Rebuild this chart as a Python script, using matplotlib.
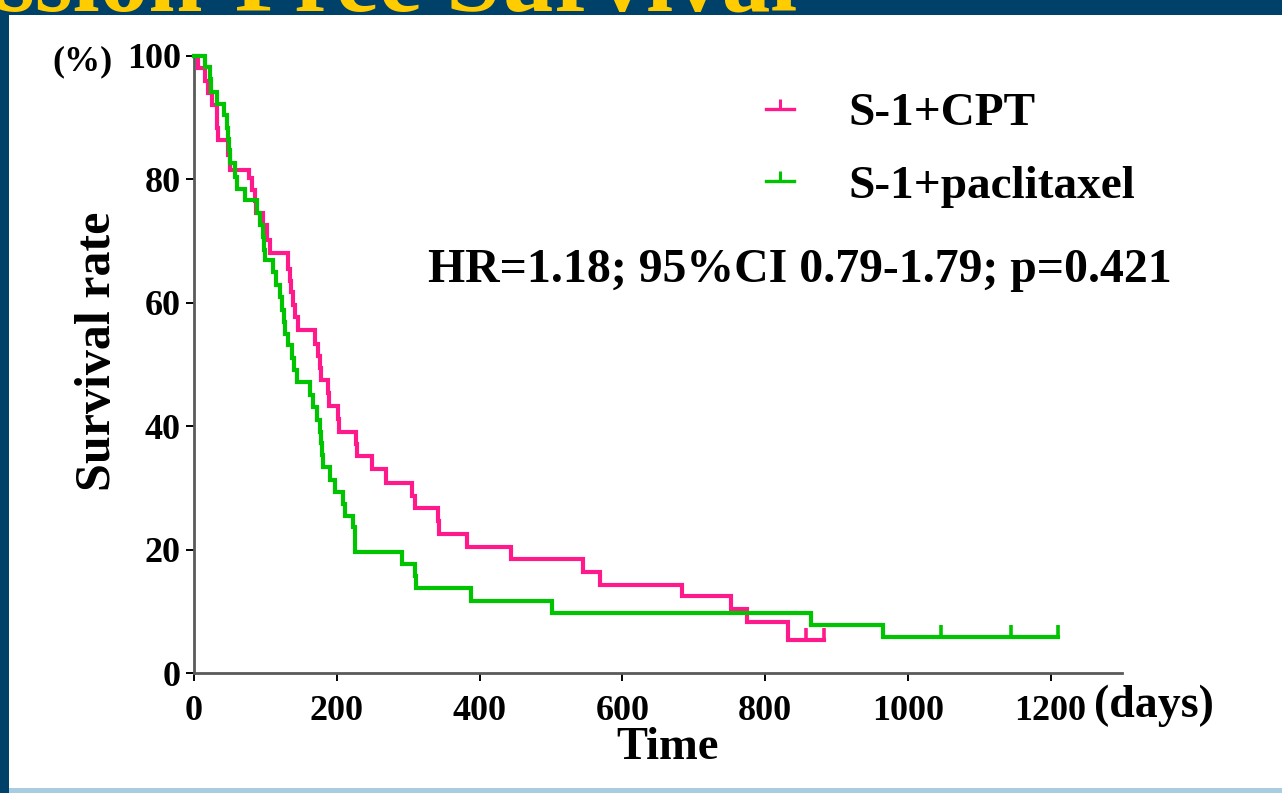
import numpy as np
import matplotlib
matplotlib.use("Agg")
import matplotlib.pyplot as plt
from matplotlib.path import Path
from matplotlib.lines import Line2D
from matplotlib.patches import Rectangle

# ---- data ----
cpt_label = "S-1+CPT"
cpt_t = [0, 5, 16, 20, 25, 32, 34, 48, 50, 77, 81, 85, 87, 97, 102, 106, 132, 134, 136, 139,
         141, 146, 169, 174, 176, 178, 188, 189, 202, 203, 227, 229, 249, 269, 305, 310, 342,
         343, 383, 444, 545, 569, 684, 752, 774, 832]
cpt_s = [100, 98, 96, 94, 92, 88.3, 86.4, 84, 81.6, 80.2, 78.3, 76.5, 74.5, 72.6, 70.2, 68.0,
         65.5, 63.5, 61.8, 59.7, 57.7, 55.6, 53.4, 51.4, 49.4, 47.5, 45.3, 43.3, 41.1, 39.1,
         37.1, 35.1, 33.0, 30.8, 28.7, 26.8, 24.6, 22.6, 20.5, 18.4, 16.4, 14.3, 12.4, 10.3,
         8.2, 5.4]
cpt_end = 882
cpt_cens = [858, 882]

pac_label = "S-1+paclitaxel"
pac_t = [0, 16, 22, 24, 32, 42, 46, 48, 49, 50, 57, 60, 72, 88, 92, 97, 98, 99, 111, 115,
         120, 123, 126, 128, 131, 137, 140, 144, 162, 167, 172, 176, 178, 179, 181, 190, 197,
         209, 211, 223, 225, 226, 291, 310, 311, 388, 502, 865, 965]
pac_s = [100, 98.2, 96.2, 94.2, 92.3, 90.4, 88.3, 86.5, 84.8, 82.6, 80.4, 78.5, 76.6, 74.5,
         72.6, 70.6, 68.6, 66.9, 65.0, 62.9, 61.0, 58.9, 56.9, 55.0, 53.1, 51.0, 49.1, 47.2,
         45.1, 43.1, 41.0, 39.1, 37.2, 35.3, 33.4, 31.3, 29.4, 27.4, 25.5, 23.6, 21.6, 19.6,
         17.6, 15.7, 13.7, 11.7, 9.8, 7.8, 5.9]
pac_end = 1211
pac_cens = [1047, 1145, 1211]

x_ticks = [0, 200, 400, 600, 800, 1000, 1200]
y_ticks = [0, 20, 40, 60, 80, 100]
stats_text = "HR=1.18; 95%CI 0.79-1.79; p=0.421"
title_text = "Progression-Free Survival"

# ---- styles ----
PINK = "#FF1A8C"
GREEN = "#00C400"
FONT = "Liberation Serif"
W, H = 1282, 793

plt.rcParams["font.family"] = [FONT, "DejaVu Serif"]
plt.rcParams["font.weight"] = "bold"

fig = plt.figure(figsize=(W / 100, H / 100), dpi=100)
fig.patch.set_facecolor("#00416A")

# white slide area and bottom strip (behind the axes)
fig.patches.append(Rectangle((9 / W, 5 / H), 1 - 9 / W, (788 - 15) / H,
                             transform=fig.transFigure, facecolor="white",
                             edgecolor="none", zorder=-10))
fig.patches.append(Rectangle((9 / W, 0), 1 - 9 / W, 5 / H,
                             transform=fig.transFigure, facecolor="#A8CCE0",
                             edgecolor="none", zorder=-10))

# cut-off title at the top
fig.text(797 / W, (H - 11) / H, title_text, ha="right", va="baseline",
         fontsize=70, color="#FFCC00", fontweight="bold", family=FONT, zorder=-5)

ax = fig.add_axes([194 / W, 120 / H, 928 / W, 617 / H])
ax.set_facecolor("none")

tick_marker = Path([(0, 0), (0, 1)], [Path.MOVETO, Path.LINETO])


def surv_at(times, surv, q):
    idx = np.searchsorted(np.asarray(times), np.asarray(q), side="right") - 1
    return np.asarray(surv)[idx]


for t, s, end, cens, col in [(cpt_t, cpt_s, cpt_end, cpt_cens, PINK),
                             (pac_t, pac_s, pac_end, pac_cens, GREEN)]:
    tt = list(t) + [end]
    ss = list(s) + [s[-1]]
    ax.step(tt, ss, where="post", color=col, lw=3.0, solid_joinstyle="miter",
            clip_on=False, zorder=3)
    ax.plot(cens, surv_at(t, s, cens), linestyle="none", marker=tick_marker,
            markersize=17, markeredgewidth=2.6, color=col, clip_on=False, zorder=3)

ax.set_xlim(0, 1300)
ax.set_ylim(0, 100)
ax.set_xticks(x_ticks)
ax.set_yticks(y_ticks)
ax.set_xticklabels([str(v) for v in x_ticks])
ax.set_yticklabels([str(v) for v in y_ticks])
for sp in ["top", "right"]:
    ax.spines[sp].set_visible(False)
for sp in ["left", "bottom"]:
    ax.spines[sp].set_color("#5A5A5A")
    ax.spines[sp].set_linewidth(2)
ax.tick_params(axis="both", direction="out", length=5.5, width=1.4, color="black",
               labelsize=26)
ax.tick_params(axis="x", pad=10)
ax.tick_params(axis="y", pad=4)
for lab in ax.get_xticklabels() + ax.get_yticklabels():
    lab.set_fontweight("bold")
    lab.set_family(FONT)

# axis labels
fig.text(98 / W, (H - 351) / H, "Survival rate", rotation=90, ha="center", va="center",
         fontsize=36, fontweight="bold", family=FONT)
fig.text(668 / W, (H - 748) / H, "Time", ha="center", va="center",
         fontsize=33.5, fontweight="bold", family=FONT)
fig.text(1094 / W, (H - 706) / H, "(days)", ha="left", va="center",
         fontsize=33, fontweight="bold", family=FONT)
fig.text(52 / W, (H - 62) / H, "(%)", ha="left", va="center",
         fontsize=26, fontweight="bold", family=FONT)

# stats text
ax.text((428 - 194) / 928, (673 - 282) / 617, stats_text, transform=ax.transAxes,
        ha="left", va="baseline", fontsize=34.4, fontweight="bold", family=FONT)

# legend
handles = [Line2D([], [], color=PINK, lw=2.4, marker=tick_marker, markersize=14,
                  markeredgewidth=2.2),
           Line2D([], [], color=GREEN, lw=2.4, marker=tick_marker, markersize=14,
                  markeredgewidth=2.2)]
leg = ax.legend(handles, [cpt_label, pac_label], loc="upper left",
                bbox_to_anchor=((766 - 194) / 928, (673 - 92) / 617),
                frameon=False, handlelength=0.6, handletextpad=1.15,
                labelspacing=0.63, borderpad=0, borderaxespad=0, numpoints=1,
                prop={"family": FONT, "weight": "bold", "size": 34})

fig.savefig("out.png", dpi=100, facecolor=fig.get_facecolor())
